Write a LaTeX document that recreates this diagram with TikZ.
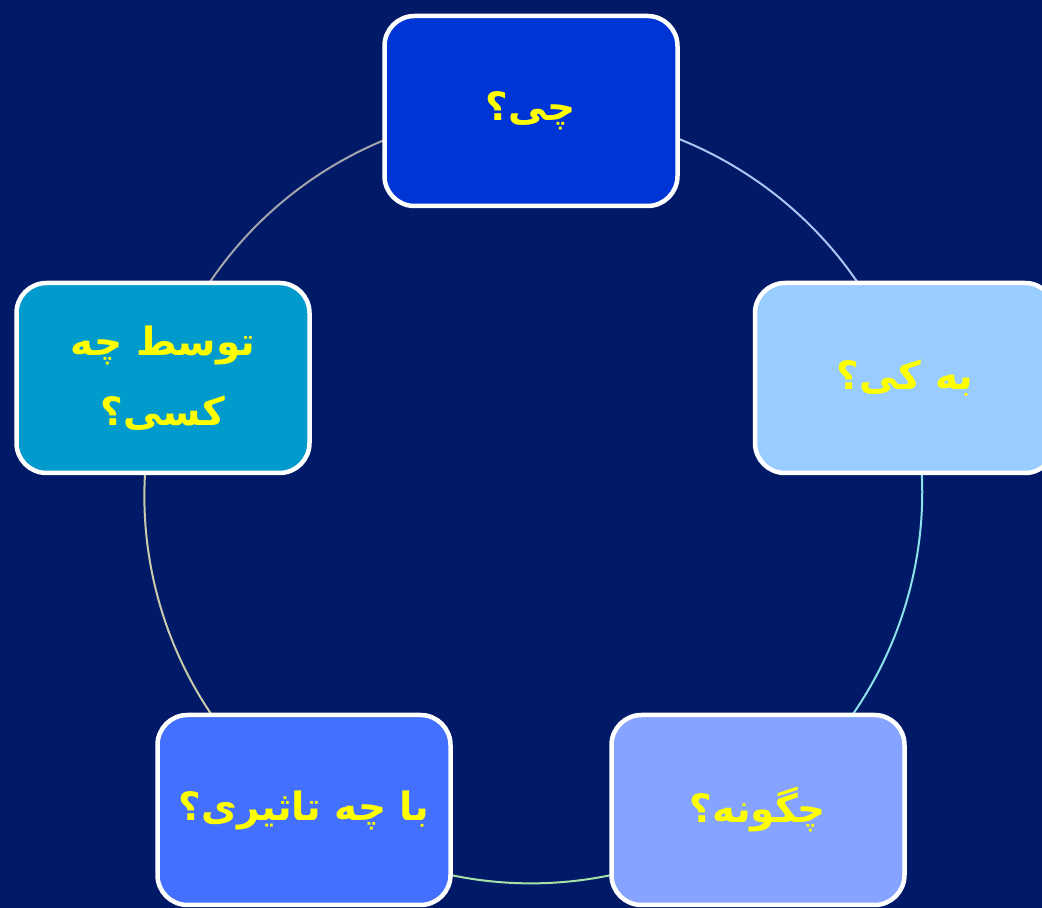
\documentclass[tikz,border=0pt]{standalone}
\usepackage{fontspec}
\usetikzlibrary{backgrounds}
\newfontfamily\farsifont[Script=Arabic]{DejaVu Sans}
\TeXXeTstate=1

\definecolor{bgblue}{HTML}{001A68}
\definecolor{qyellow}{HTML}{FFFF00}
\definecolor{boxwhat}{HTML}{0035D5}
\definecolor{boxwhom}{HTML}{99CCFF}
\definecolor{boxhow}{HTML}{85A3FF}
\definecolor{boxeffect}{HTML}{4470FF}
\definecolor{boxwho}{HTML}{009ACC}
\definecolor{arcone}{HTML}{AFC4F2}
\definecolor{arctwo}{HTML}{8CE2EA}
\definecolor{arcthree}{HTML}{A6E2A6}
\definecolor{arcfour}{HTML}{CACAAA}
\definecolor{arcfive}{HTML}{A4A4AC}

\begin{document}
\begin{tikzpicture}[x=1pt,y=1pt]

      \useasboundingbox (0,0) rectangle (1042,908);

      \begin{scope}[every node/.style={draw=white, line width=4.5pt, rounded corners=30pt,
          minimum width=293pt, minimum height=190pt, text=qyellow, align=center,
          font=\farsifont\bfseries\fontsize{39}{70}\selectfont}]
        \node[fill=boxwhat]   (what)   at (531,797) {\beginR چی؟\endR};
        \node[fill=boxwhom, minimum width=300pt] (whom) at (905,530) {\beginR به کی؟\endR};
        \node[fill=boxhow]    (how)    at (758,98)  {\beginR چگونه؟\endR};
        \node[fill=boxeffect] (effect) at (304,98)  {\beginR با چه تاثیری؟\endR};
        \node[fill=boxwho]    (who)    at (163,530) {\beginR توسط چه\endR\\\beginR کسی؟\endR};
      \end{scope}

      \begin{scope}[on background layer]
        \fill[bgblue] (0,0) rectangle (1042,908);
        \begin{scope}[every edge/.style={draw, line width=2pt, bend left=36, looseness=0.94}]
          \path (what.center)   edge[arcone]   (whom.center);
          \path (whom.center)   edge[arctwo]   (how.center);
          \path (how.center)    edge[arcthree] (effect.center);
          \path (effect.center) edge[arcfour]  (who.center);
          \path (who.center)    edge[arcfive]  (what.center);
        \end{scope}
      \end{scope}

    \end{tikzpicture}
\end{document}
